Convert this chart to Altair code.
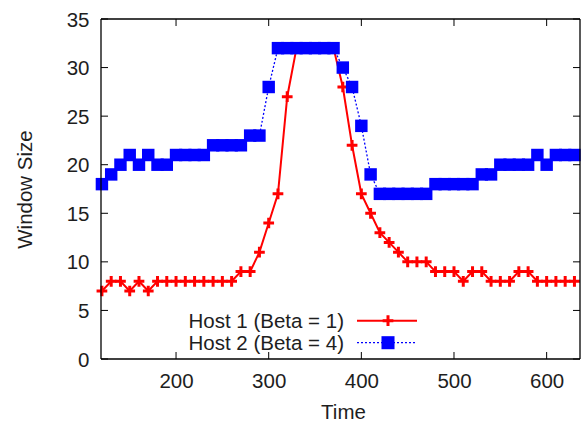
import altair as alt
import pandas as pd

# ---- data ----
time = [120, 130, 140, 150, 160, 170, 180, 190, 200, 210, 220, 230, 240, 250,
        260, 270, 280, 290, 300, 310, 320, 330, 340, 350, 360, 370, 380, 390,
        400, 410, 420, 430, 440, 450, 460, 470, 480, 490, 500, 510, 520, 530,
        540, 550, 560, 570, 580, 590, 600, 610, 620, 630]
host1 = [7, 8, 8, 7, 8, 7, 8, 8, 8, 8, 8, 8, 8, 8, 8, 9, 9, 11, 14, 17, 27,
         32, 32, 32, 32, 32, 28, 22, 17, 15, 13, 12, 11, 10, 10, 10, 9, 9, 9,
         8, 9, 9, 8, 8, 8, 9, 9, 8, 8, 8, 8, 8]
host2 = [18, 19, 20, 21, 20, 21, 20, 20, 21, 21, 21, 21, 22, 22, 22, 22, 23,
         23, 28, 32, 32, 32, 32, 32, 32, 32, 30, 28, 24, 19, 17, 17, 17, 17,
         17, 17, 18, 18, 18, 18, 18, 19, 19, 20, 20, 20, 20, 21, 20, 21, 21, 21]
x_ticks = [200, 300, 400, 500, 600]
y_ticks = [0, 5, 10, 15, 20, 25, 30, 35]
legend_labels = ["Host 1 (Beta = 1)", "Host 2 (Beta = 4)"]

# ---- style ----
W, H = 479, 340
FONT = "Liberation Sans"
FS = 20.5
TXT = "#1e1e1e"
RED = "#ff0000"
BLUE = "#0000ff"
CROSS = "M-1,-0.28H-0.28V-1H0.28V-0.28H1V0.28H0.28V1H-0.28V0.28H-1Z"

df1 = pd.DataFrame({"Time": time, "Window Size": host1})
df2 = pd.DataFrame({"Time": time, "Window Size": host2})
xt = pd.DataFrame({"Time": x_ticks})
yt = pd.DataFrame({"Window Size": y_ticks})
leg1 = pd.DataFrame({"label": [legend_labels[0]]})
leg2 = pd.DataFrame({"label": [legend_labels[1]]})

xscale = alt.Scale(domain=[119, 636], nice=False, zero=False)
yscale = alt.Scale(domain=[0, 35], nice=False, zero=False)

xaxis = alt.Axis(values=x_ticks, ticks=False, tickSize=0, domain=False, grid=False,
                 labelPadding=12, labelFont=FONT, labelFontSize=FS, labelColor=TXT,
                 title="Time", titleFont=FONT, titleFontSize=FS, titleFontWeight="normal",
                 titleColor=TXT, titleX=242, titleY=43, titleAlign="center",
                 titleBaseline="top")
yaxis = alt.Axis(values=y_ticks, ticks=False, tickSize=0, domain=False, grid=False,
                 labelPadding=12, labelOffset=1, labelFont=FONT, labelFontSize=FS,
                 labelColor=TXT, title="Window Size", titleFont=FONT, titleFontSize=FS,
                 titleFontWeight="normal", titleColor=TXT, titleX=-76, titleY=170,
                 titleAngle=270, titleAlign="center", titleBaseline="middle")

X = lambda f: alt.X(f, scale=xscale, axis=xaxis)
Y = lambda f: alt.Y(f, scale=yscale, axis=yaxis)

line1 = alt.Chart(df1).mark_line(color=RED, strokeWidth=2).encode(
    x=X("Time:Q"), y=Y("Window Size:Q"))
pts1 = alt.Chart(df1).mark_point(shape=CROSS, size=115, filled=True, color=RED,
                                 opacity=1, strokeWidth=0).encode(
    x=X("Time:Q"), y=Y("Window Size:Q"))
line2 = alt.Chart(df2).mark_line(color=BLUE, strokeWidth=1.3, strokeDash=[2, 2]).encode(
    x=X("Time:Q"), y=Y("Window Size:Q"))
pts2 = alt.Chart(df2).mark_point(shape="square", size=155, filled=True, color=BLUE,
                                 opacity=1, strokeWidth=0).encode(
    x=X("Time:Q"), y=Y("Window Size:Q"))

# inward ticks (gnuplot style, mirrored)
tk = dict(color="black", strokeWidth=1)
xb = alt.Chart(xt).mark_rule(**tk).encode(x=X("Time:Q"), y=alt.value(H), y2=alt.value(H - 7))
xtp = alt.Chart(xt).mark_rule(**tk).encode(x=X("Time:Q"), y=alt.value(0), y2=alt.value(7))
yl = alt.Chart(yt).mark_rule(**tk).encode(y=Y("Window Size:Q"), x=alt.value(0), x2=alt.value(7))
yr = alt.Chart(yt).mark_rule(**tk).encode(y=Y("Window Size:Q"), x=alt.value(W), x2=alt.value(W - 7))

# frame
fr = dict(color="black", strokeWidth=1.3)
f_top = alt.Chart(leg1).mark_rule(**fr).encode(x=alt.value(0), x2=alt.value(W), y=alt.value(0))
f_bot = alt.Chart(leg1).mark_rule(**fr).encode(x=alt.value(0), x2=alt.value(W), y=alt.value(H))
f_lft = alt.Chart(leg1).mark_rule(**fr).encode(y=alt.value(0), y2=alt.value(H), x=alt.value(0))
f_rgt = alt.Chart(leg1).mark_rule(**fr).encode(y=alt.value(0), y2=alt.value(H), x=alt.value(W))

# legend (text left, sample right)
txt = dict(align="right", baseline="middle", font=FONT, fontSize=FS, color=TXT)
l1t = alt.Chart(leg1).mark_text(**txt).encode(x=alt.value(243), y=alt.value(303), text="label:N")
l1l = alt.Chart(leg1).mark_rule(color=RED, strokeWidth=2).encode(
    x=alt.value(256), x2=alt.value(316), y=alt.value(301.7))
l1p = alt.Chart(leg1).mark_point(shape=CROSS, size=115, filled=True, color=RED,
                                 opacity=1, strokeWidth=0).encode(
    x=alt.value(287), y=alt.value(301.7))
l2t = alt.Chart(leg2).mark_text(**txt).encode(x=alt.value(243), y=alt.value(324.7), text="label:N")
l2l = alt.Chart(leg2).mark_rule(color=BLUE, strokeWidth=1.3, strokeDash=[2, 2]).encode(
    x=alt.value(256), x2=alt.value(316), y=alt.value(323.7))
l2p = alt.Chart(leg2).mark_point(shape="square", size=170, filled=True, color=BLUE,
                                 opacity=1, strokeWidth=0).encode(
    x=alt.value(287), y=alt.value(323.7))

chart = alt.layer(line1, pts1, line2, pts2, xb, xtp, yl, yr,
                  f_top, f_bot, f_lft, f_rgt,
                  l1t, l1l, l1p, l2t, l2l, l2p).properties(
    width=W, height=H,
    autosize=alt.AutoSizeParams(type="none"),
    padding={"left": 101, "top": 19, "right": 2, "bottom": 64},
    background="white",
).configure_view(stroke=None)

chart.save("out.html", embed_options={"renderer": "svg", "actions": False})
